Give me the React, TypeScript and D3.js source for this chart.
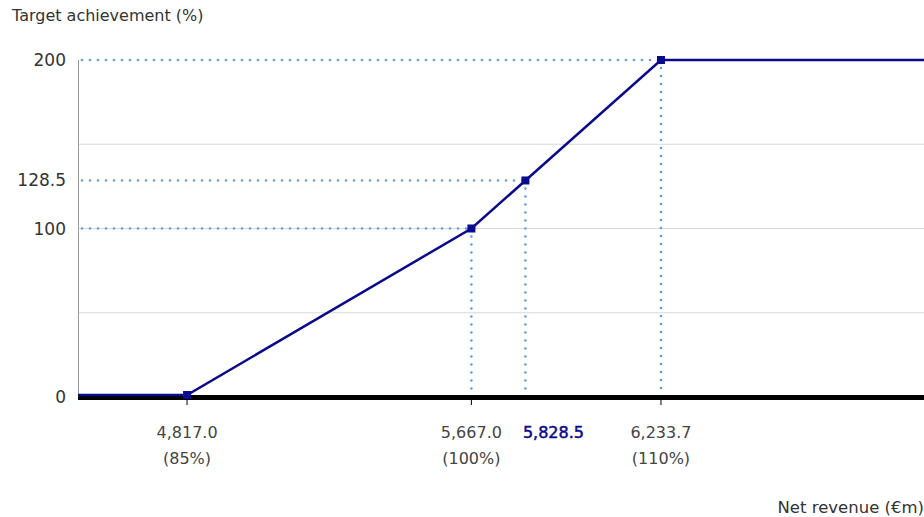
import React from "react";
import * as d3 from "d3";

const revenue = [4491, 4817.0, 5667.0, 5828.5, 6233.7, 7020];
const achievement = [0, 0, 100, 128.5, 200, 200];
const markerIdx = [1, 2, 3, 4];
const guideIdx = [2, 3, 4];
const yTicks = [0, 100, 128.5, 200];
const yGrid = [50, 100, 150];
const xTickVals = [4817.0, 5667.0, 5828.5, 6233.7];
const xTickLabels = ["4,817.0", "5,667.0", "5,828.5", "6,233.7"];
const xTickSub = ["(85%)", "(100%)", "", "(110%)"];
const xTickHighlight = [false, false, true, false];

export default function App() {
  const W = 924, H = 517;
  const x = d3.scaleLinear().domain([4491, 7020]).range([78, 924]);
  const y = d3.scaleLinear().domain([0, 200]).range([397, 60]);
  const line = d3.line<number>().x((_, i) => x(revenue[i])).y((d) => y(d) - (d === 0 ? 2 : 0));
  const font = "'DejaVu Sans', sans-serif";
  const blue = "#5b9fe3";
  const navy = "#0a0a8c";
  return (
    <svg width={W} height={H} style={{ position: "absolute", left: 0, top: 0 }}>
      <rect width={W} height={H} fill="#fff" />
      {yGrid.map((v) => (
        <line key={v} x1={78} x2={W} y1={y(v)} y2={y(v)} stroke="#d9d9d9" strokeWidth={1} />
      ))}
      <line x1={78.5} x2={78.5} y1={y(200)} y2={y(0)} stroke="#999" strokeWidth={1} />
      {guideIdx.map((i) => (
        <g key={i}>
          <line x1={82} x2={x(revenue[i])} y1={y(achievement[i])} y2={y(achievement[i])}
            stroke={blue} strokeWidth={2.6} strokeDasharray="0 8" strokeLinecap="round" />
          <line x1={x(revenue[i])} x2={x(revenue[i])} y1={y(achievement[i])} y2={y(0) - 3}
            stroke={blue} strokeWidth={2.6} strokeDasharray="0 8" strokeLinecap="round" />
        </g>
      ))}
      <line x1={78} x2={W} y1={y(0) + 0.5} y2={y(0) + 0.5} stroke="#000" strokeWidth={5} />
      {xTickVals.map((v, i) =>
        xTickHighlight[i] ? null : (
          <line key={v} x1={x(v)} x2={x(v)} y1={y(0)} y2={y(0) + 8} stroke="#000" strokeWidth={1} />
        )
      )}
      <path d={line(achievement) || ""} fill="none" stroke={navy} strokeWidth={2.5} />
      {markerIdx.map((i) => (
        <rect key={i} x={x(revenue[i]) - 4} y={y(achievement[i]) - 4 - (achievement[i] === 0 ? 2 : 0)}
          width={8} height={8} fill={navy} />
      ))}
      {yTicks.map((v) => (
        <text key={v} x={66} y={y(v)} textAnchor="end" dominantBaseline="central"
          fontFamily={font} fontSize={17} fill="#333">
          {v === 128.5 ? "128.5" : String(v)}
        </text>
      ))}
      {xTickVals.map((v, i) => (
        <g key={v}>
          <text x={x(v) + (xTickHighlight[i] ? 28 : 0)} y={432} textAnchor="middle" dominantBaseline="central" fontFamily={font}
            fontSize={16} fill={xTickHighlight[i] ? navy : "#444"}
            stroke={xTickHighlight[i] ? navy : "none"} strokeWidth={0.5}>
            {xTickLabels[i]}
          </text>
          {xTickSub[i] && (
            <text x={x(v)} y={458} textAnchor="middle" dominantBaseline="central" fontFamily={font}
              fontSize={16} fill="#444">
              {xTickSub[i]}
            </text>
          )}
        </g>
      ))}
      <text x={12} y={15} dominantBaseline="central" fontFamily={font} fontSize={16} fill="#333">
        Target achievement (%)
      </text>
      <text x={924} y={507} textAnchor="end" dominantBaseline="central" fontFamily={font} fontSize={16.5} fill="#333">
        Net revenue (€m)
      </text>
    </svg>
  );
}
